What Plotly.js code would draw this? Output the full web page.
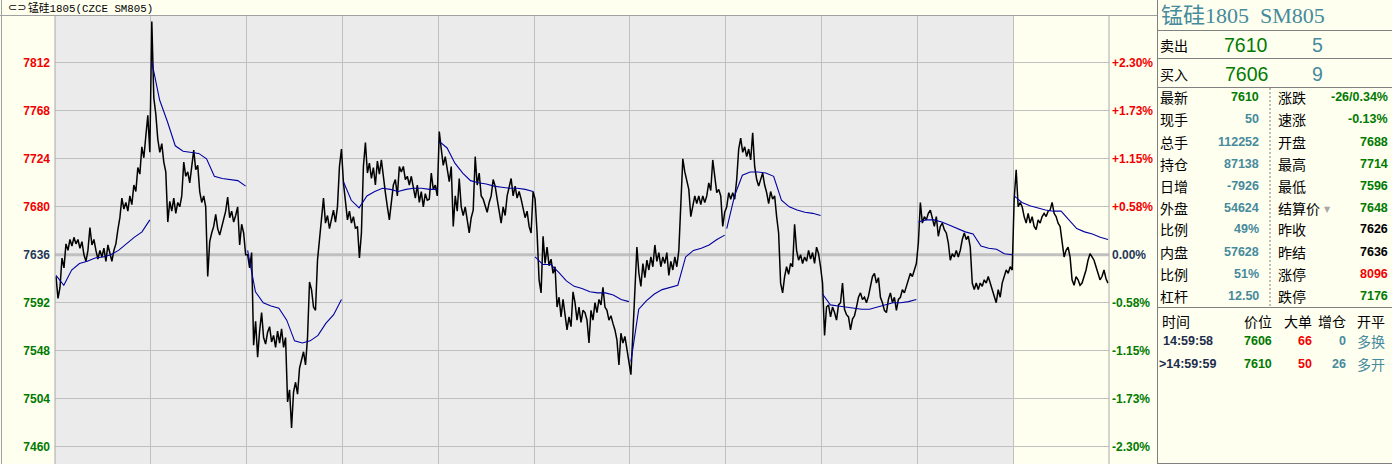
<!DOCTYPE html>
<html><head><meta charset="utf-8">
<script src="https://cdn.plot.ly/plotly-3.0.1.min.js"></script>
<style>html,body{margin:0;padding:0;background:#FFFFF0;overflow:hidden}#chart{width:1392px;height:464px}</style>
</head><body><div id="chart"></div>
<script>
// ---- data: tick prices per trading day (equally spaced within each day) ----
const day1 = [7616,7596,7606,7633,7624,7646,7640,7650,7644,7652,7646,7650,7642,7648,7636,7630,7640,7661,7645,7650,7640,7632,7640,7634,7642,7630,7645,7636,7630,7640,7646,7659,7670,7688,7678,7684,7676,7690,7682,7700,7694,7716,7710,7735,7725,7745,7764,7730];
const day2 = [7850,7780,7765,7742,7730,7738,7721,7712,7666,7685,7676,7688,7674,7684,7680,7690,7721,7708,7712,7702,7718,7732,7714,7718,7694,7684,7690,7680,7616,7648,7656,7662,7673,7660,7654,7662,7670,7676,7689,7670,7676,7666,7672,7680,7645,7664,7656,7636];
const day3 = [7636,7624,7638,7553,7575,7542,7566,7583,7560,7554,7565,7570,7556,7562,7551,7566,7555,7568,7551,7560,7501,7512,7477,7510,7519,7508,7532,7540,7547,7535,7560,7611,7604,7588,7585,7631,7650,7671,7688,7665,7672,7660,7670,7677,7666,7680,7717,7733];
const day4 = [7702,7687,7668,7676,7665,7671,7660,7662,7633,7656,7717,7739,7711,7720,7706,7716,7700,7722,7710,7723,7705,7693,7680,7668,7684,7700,7705,7690,7717,7712,7717,7705,7708,7700,7708,7696,7688,7700,7684,7694,7680,7692,7686,7687,7711,7696,7700,7690];
const day5 = [7749,7733,7718,7726,7714,7703,7717,7662,7690,7676,7706,7680,7672,7680,7668,7656,7670,7677,7726,7700,7711,7690,7687,7680,7675,7684,7690,7705,7699,7687,7675,7665,7680,7672,7690,7698,7706,7690,7699,7688,7694,7687,7677,7670,7676,7662,7656,7694];
const day6 = [7687,7656,7613,7601,7653,7628,7643,7626,7632,7619,7625,7588,7597,7579,7595,7583,7567,7579,7570,7602,7592,7576,7588,7574,7585,7583,7576,7555,7585,7576,7592,7583,7595,7590,7606,7588,7585,7576,7580,7573,7567,7558,7535,7564,7555,7561,7549,7540];
const day7 = [7526,7564,7601,7643,7619,7607,7628,7615,7631,7622,7634,7625,7645,7630,7638,7625,7634,7628,7638,7617,7630,7622,7634,7625,7640,7687,7724,7712,7705,7696,7671,7680,7690,7683,7690,7682,7690,7684,7690,7702,7695,7723,7705,7693,7696,7690,7662,7675];
const day8 = [7680,7693,7687,7693,7687,7705,7733,7743,7730,7735,7726,7733,7723,7748,7717,7705,7699,7705,7711,7700,7693,7683,7694,7687,7690,7671,7656,7610,7601,7616,7625,7618,7628,7625,7664,7640,7631,7636,7628,7634,7630,7640,7632,7638,7628,7643,7637,7625];
const day9 = [7610,7562,7588,7590,7579,7588,7583,7576,7590,7592,7610,7586,7581,7579,7567,7577,7580,7588,7597,7601,7595,7597,7592,7598,7606,7616,7619,7610,7615,7597,7592,7585,7583,7595,7601,7592,7597,7585,7595,7597,7604,7601,7607,7613,7619,7616,7622,7628];
const day10 = [7647,7684,7665,7671,7668,7674,7677,7668,7662,7671,7653,7662,7665,7659,7656,7647,7631,7637,7634,7640,7634,7640,7650,7656,7650,7653,7643,7610,7604,7610,7604,7610,7607,7613,7610,7616,7610,7604,7597,7592,7604,7597,7610,7616,7622,7619,7625,7622];
const day11 = [7687,7714,7680,7684,7680,7671,7665,7674,7665,7671,7662,7659,7668,7665,7671,7674,7671,7676,7677,7684,7674,7671,7665,7662,7650,7634,7640,7643,7634,7613,7608,7616,7613,7608,7610,7616,7622,7631,7637,7634,7631,7625,7619,7613,7616,7622,7614,7610];

// ---- data: intraday average price per day ----
const avg1 = [7617,7608,7622,7628,7630,7633,7634,7636,7640,7646,7652,7657,7668];
const avg2 = [7813,7778,7758,7736,7731,7730,7729,7724,7708,7706,7705,7704,7699];
const avg3 = [7640,7602,7592,7589,7587,7576,7557,7555,7557,7562,7573,7581,7595];
const avg4 = [7703,7686,7679,7690,7694,7697,7696,7694,7696,7697,7697,7696,7696];
const avg5 = [7740,7734,7720,7711,7704,7702,7701,7699,7698,7697,7697,7696,7694];
const avg6 = [7634,7627,7627,7620,7612,7607,7605,7602,7601,7601,7599,7595,7593];
const avg7 = [7538,7586,7594,7600,7604,7606,7608,7634,7640,7642,7645,7650,7654];
const avg8 = [7660,7690,7709,7712,7712,7711,7708,7686,7680,7677,7675,7674,7672];
const avg9 = [7600,7590,7589,7588,7587,7586,7586,7588,7590,7592,7592,7593,7595];
const avg10 = [7666,7668,7668,7666,7663,7660,7657,7655,7644,7642,7641,7637,7636];
const avg11 = [7690,7684,7681,7679,7677,7676,7676,7668,7660,7657,7655,7652,7650];

const prevSettle = 7636;
const priceTicks = [7460,7504,7548,7592,7636,7680,7724,7768,7812];
const priceTickText = ['7460','7504','7548','7592','7636','7680','7724','7768','7812'];
const pctTickText = ['-2.30%','-1.73%','-1.15%','-0.58%','0.00%','+0.58%','+1.15%','+1.73%','+2.30%'];

// ---- quote panel data ----
const titleText = '锰硅1805\u00a0\u00a0SM805';
const headerText = '锰硅1805(CZCE SM805)';
const askBid = [['卖出','7610','5'],['买入','7606','9']];
const leftLabels = ['最新','现手','总手','持仓','日增','外盘','比例','内盘','比例','杠杆'];
const leftValues = ['7610','50','112252','87138','-7926','54624','49%','57628','51%','12.50'];
const rightLabels = ['涨跌','速涨','开盘','最高','最低','结算价','昨收','昨结','涨停','跌停'];
const rightValues = ['-26/0.34%','-0.13%','7688','7714','7596','7648','7626','7636','8096','7176'];
const tickHeaders = ['时间','价位','大单','增仓','开平'];
const tickTimes = ['14:59:58','>14:59:59'];
const tickPrices = ['7606','7610'];
const tickVols = ['66','50'];
const tickOI = ['0','26'];
const tickKinds = ['多换','多开'];

// ---- colours / geometry ----
const RED='#F20000', GREEN='#007A00', TEAL='#468A9C', DARK='#24385A', CREAM='#FFFFF0';
const W=1392,H=464,L=55,R=283,T=15,B=0;
const PW=W-L-R, PH=H-T-B;
const px = x => (x-L)/PW;
const py = y => (H-B-y)/PH;

const days=[day1,day2,day3,day4,day5,day6,day7,day8,day9,day10,day11];
const avgs=[avg1,avg2,avg3,avg4,avg5,avg6,avg7,avg8,avg9,avg10,avg11];
const priceX=[],priceY=[];
days.forEach((d,k)=>d.forEach((v,i)=>{priceX.push(k+(i+0.5)/d.length);priceY.push(v);}));
const avgX=[],avgY=[];
avgs.forEach((a,k)=>{const n=days[k].length;a.forEach((v,i)=>{avgX.push(k+(0.5+i*(n-1)/(a.length-1))/n);avgY.push(v);});avgX.push(k+1);avgY.push(null);});

const tickColor = v => v>prevSettle?RED:(v<prevSettle?GREEN:DARK);
const colored = (t,c)=>'<span style="color:'+c+'">'+t+'</span>';

const yRange=[7444,7856];
const tfont={family:'Liberation Sans, Arial, sans-serif',size:12,weight:'bold'};

const traces=[
 {x:priceX,y:priceY,type:'scatter',mode:'lines',line:{color:'#000000',width:1.5},hoverinfo:'skip',showlegend:false},
 {x:avgX,y:avgY,type:'scatter',mode:'lines',line:{color:'#0000A0',width:1.1},connectgaps:false,hoverinfo:'skip',showlegend:false},
 {x:[0,days.length],y:[prevSettle,prevSettle],yaxis:'y2',type:'scatter',mode:'lines',line:{width:0,color:'rgba(0,0,0,0)'},hoverinfo:'skip',showlegend:false}
];

const shapes=[
 {type:'rect',xref:'x',yref:'paper',x0:0,x1:days.length-1,y0:0,y1:1,fillcolor:'#EBEBEB',line:{width:0},layer:'below'},
 {type:'line',xref:'paper',yref:'y',x0:0,x1:1,y0:prevSettle,y1:prevSettle,line:{color:'#C0C0C0',width:3},layer:'between'},
 {type:'line',xref:'paper',yref:'paper',x0:0,x1:0,y0:0,y1:1,line:{color:'#A8A8A8',width:1}},
 {type:'line',xref:'paper',yref:'paper',x0:1,x1:1,y0:0,y1:1,line:{color:'#A8A8A8',width:1}},
 {type:'line',xref:'paper',yref:'paper',x0:px(0),x1:px(1157),y0:py(15.5),y1:py(15.5),line:{color:'#A0A0A0',width:1}},
 {type:'line',xref:'paper',yref:'paper',x0:px(1.5),x1:px(1.5),y0:py(0),y1:py(464),line:{color:'#A0A0A0',width:1}},
 {type:'line',xref:'paper',yref:'paper',x0:px(1157.5),x1:px(1157.5),y0:py(0),y1:py(464),line:{color:'#808080',width:1}},
];
[30,58,87,307,463].forEach(y=>shapes.push({type:'line',xref:'paper',yref:'paper',x0:px(1157),x1:px(1392),y0:py(y+0.5),y1:py(y+0.5),line:{color:'#808080',width:1}}));
shapes.push({type:'line',xref:'paper',yref:'paper',x0:px(1270),x1:px(1270),y0:py(88),y1:py(306),line:{color:'#808080',width:1,dash:'2px,2px'}});

const ann=[];
function txt(x,y,text,opts){
  ann.push(Object.assign({xref:'paper',yref:'paper',x:px(x),y:py(y),text:text,showarrow:false,xanchor:'left',yanchor:'middle',borderpad:0,
    font:{family:'Liberation Sans, Arial, Noto Sans CJK SC, sans-serif',size:13,color:'#000'}},opts||{}));
}
const CJK='Noto Sans CJK SC, sans-serif';
const NUM='Liberation Sans, Arial, sans-serif';
// header
txt(7,7.5,'⊂⊃',{font:{family:'DejaVu Sans',size:11,color:'#000'}});
txt(27,7.5,headerText,{font:{family:'Liberation Mono, Noto Sans CJK SC, monospace',size:10.8,color:'#000'}});
// panel title
txt(1160,15,titleText,{font:{family:'Liberation Serif, Noto Sans CJK SC, serif',size:22,color:TEAL}});
// ask / bid
askBid.forEach((r,i)=>{
  const y=[44.5,73.5][i];
  txt(1159,y,r[0],{font:{family:CJK,size:14,color:'#000'}});
  txt(1269,y,r[1],{xanchor:'right',font:{family:NUM,size:19.5,color:GREEN}});
  txt(1324,y,r[2],{xanchor:'right',font:{family:NUM,size:19.5,color:TEAL}});
});
const leftColors=[GREEN,TEAL,TEAL,TEAL,TEAL,TEAL,TEAL,TEAL,TEAL,TEAL];
const rightColors=[GREEN,GREEN,GREEN,GREEN,GREEN,GREEN,'#000','#000',RED,GREEN];
leftLabels.forEach((lab,i)=>{
  const y=97.5+22*i;
  txt(1159,y,lab,{font:{family:CJK,size:14,color:'#000'}});
  txt(1260,y,leftValues[i],{xanchor:'right',font:{family:NUM,size:12.5,weight:'bold',color:leftColors[i]}});
  txt(1277,y,rightLabels[i],{font:{family:CJK,size:14,color:'#000'}});
  txt(1389,y,rightValues[i],{xanchor:'right',font:{family:NUM,size:12.5,weight:'bold',color:rightColors[i]}});
});
txt(1323,209,'▼',{font:{family:'DejaVu Sans',size:8,color:'#A8A8A8'}});
// tick table
const hx=[[1161,'left'],[1273,'right'],[1313,'right'],[1347,'right'],[1356,'left']];
tickHeaders.forEach((h,i)=>txt(hx[i][0],320.5,h,{xanchor:hx[i][1],font:{family:CJK,size:14,color:'#000'}}));
tickTimes.forEach((t,i)=>{
  const y=341+22.5*i;
  txt(t.startsWith('>')?1158:1162,y,t,{font:{family:NUM,size:12.5,weight:'bold',color:'#1C2C4C'}});
  txt(1273,y,tickPrices[i],{xanchor:'right',font:{family:NUM,size:12.5,weight:'bold',color:GREEN}});
  txt(1313,y,tickVols[i],{xanchor:'right',font:{family:NUM,size:12.5,weight:'bold',color:RED}});
  txt(1347,y,tickOI[i],{xanchor:'right',font:{family:NUM,size:12.5,weight:'bold',color:TEAL}});
  txt(1356,y,tickKinds[i],{font:{family:CJK,size:14,color:TEAL}});
});

const layout={
  width:W,height:H,margin:{l:L,r:R,t:T,b:B,pad:0},
  paper_bgcolor:CREAM,plot_bgcolor:CREAM,showlegend:false,
  xaxis:{range:[0,days.length],tickvals:days.map((d,i)=>i).concat([days.length]),showticklabels:false,ticks:'',
    showgrid:true,gridcolor:'#C0C0C0',gridwidth:1,zeroline:false,showline:false,fixedrange:true},
  yaxis:{range:yRange,tickvals:priceTicks,ticktext:priceTicks.map((v,i)=>colored(priceTickText[i],tickColor(v))),
    showgrid:true,gridcolor:'#C0C0C0',gridwidth:1,zeroline:false,showline:false,ticks:'',ticklabelstandoff:4,tickfont:tfont,fixedrange:true},
  yaxis2:{range:yRange,overlaying:'y',side:'right',anchor:'x',tickvals:priceTicks,ticktext:priceTicks.map((v,i)=>colored(pctTickText[i],tickColor(v))),
    showgrid:false,zeroline:false,showline:false,ticks:'',ticklabelstandoff:2,tickfont:tfont,fixedrange:true},
  shapes:shapes,annotations:ann
};
Plotly.newPlot('chart',traces,layout,{staticPlot:true,displayModeBar:false});
</script></body></html>
